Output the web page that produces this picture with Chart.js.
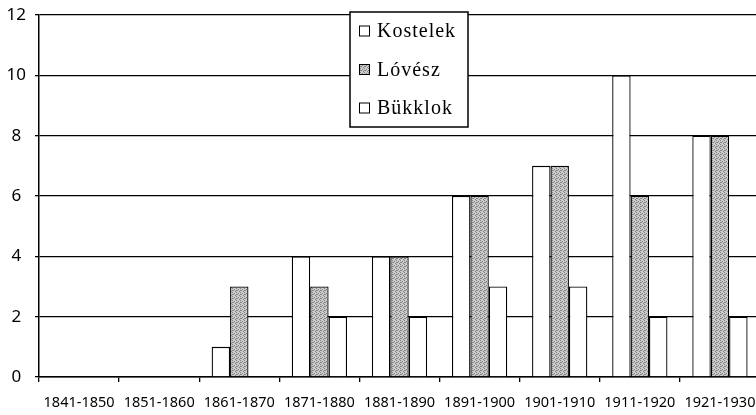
<!DOCTYPE html>
<html>
<head>
<meta charset="utf-8">
<script src="https://cdn.jsdelivr.net/npm/chart.js@4.4.0/dist/chart.umd.min.js"></script>
<style>
html,body{margin:0;padding:0;background:#fff;overflow:hidden;}
#wrap{position:absolute;left:0;top:0;width:770px;height:415px;}
</style>
</head>
<body>
<div id="wrap"><canvas id="c"></canvas></div>
<script>
const categories = ["1841-1850","1851-1860","1861-1870","1871-1880","1881-1890","1891-1900","1901-1910","1911-1920","1921-1930"];
const seriesNames = ["Kostelek","Lóvész","Bükklok"];
const kostelek = [0,0,1,4,4,6,7,10,8];
const lovesz   = [0,0,3,3,4,6,7,6,8];
const bukklok  = [0,0,0,2,2,3,3,2,2];
const yTicks = [0,2,4,6,8,10,12];

function makePattern(){
  const p = document.createElement('canvas');
  p.width = 4; p.height = 4;
  const g = p.getContext('2d');
  g.fillStyle = '#cccccc'; g.fillRect(0,0,4,4);
  g.fillStyle = '#808080';
  [[0,0],[2,1],[1,2],[3,3],[0,2]].forEach(([x,y])=>g.fillRect(x,y,1,1));
  return g.createPattern(p,'repeat');
}
const ctx = document.getElementById('c').getContext('2d');
const grayPat = makePattern();
const fills = ['#ffffff', grayPat, '#ffffff'];

const legendPlugin = {
  id:'boxLegend',
  afterDraw(chart){
    const c = chart.ctx;
    c.save();
    const x0 = 350, y0 = 12, w = 118, h = 115;
    c.fillStyle = '#fff';
    c.fillRect(x0,y0,w,h);
    c.strokeStyle = '#000'; c.lineWidth = 1.5;
    c.strokeRect(x0,y0,w,h);
    c.font = '20px "Liberation Serif"';
    try { c.letterSpacing = '1px'; } catch(e){}
    c.textBaseline = 'middle';
    c.textAlign = 'left';
    chart.data.datasets.forEach((ds,i)=>{
      const cy = y0 + 19 + i*38.5;
      c.fillStyle = ds.backgroundColor;
      c.fillRect(359, cy-5, 10, 10);
      c.lineWidth = 1; c.strokeStyle = '#000';
      c.strokeRect(359.5, cy-5, 10, 10);
      c.fillStyle = '#000';
      c.fillText(ds.label, 377, cy+1);
    });
    c.restore();
  }
};

new Chart(ctx, {
  type:'bar',
  data:{
    labels: categories,
    datasets: [kostelek, lovesz, bukklok].map((d,i)=>({
      label: seriesNames[i],
      data: d,
      backgroundColor: fills[i],
      borderColor:'#000',
      borderWidth:1.3,
      categoryPercentage:0.69,
      barPercentage:1.0
    }))
  },
  options:{
    responsive:true,
    maintainAspectRatio:false,
    animation:false,
    devicePixelRatio:1,
    layout:{padding:{left:0,right:10,top:15,bottom:0}},
    plugins:{legend:{display:false},tooltip:{enabled:false}},
    scales:{
      x:{
        grid:{drawOnChartArea:false,color:'#000',tickLength:5,lineWidth:1.3},
        border:{display:true,color:'#000',width:1.5},
        ticks:{color:'#000',font:{family:'"Noto Sans"',size:14.5},padding:12,maxRotation:0,autoSkip:false},
        afterFit(s){ s.height = 38; s.paddingLeft = 0; s.paddingRight = 0; }
      },
      y:{
        min:0,max:12,
        afterBuildTicks(s){ s.ticks = yTicks.map(v=>({value:v})); },
        grid:{color:'#000',lineWidth:1.3,tickLength:4},
        border:{display:true,color:'#000',width:1.5},
        ticks:{color:'#000',font:{family:'"Noto Sans"',size:17},padding:9,crossAlign:'center'},
        afterFit(s){ s.width = 39; s.paddingTop = 0; s.paddingBottom = 0; }
      }
    }
  },
  plugins:[legendPlugin]
});
</script>
</body>
</html>
